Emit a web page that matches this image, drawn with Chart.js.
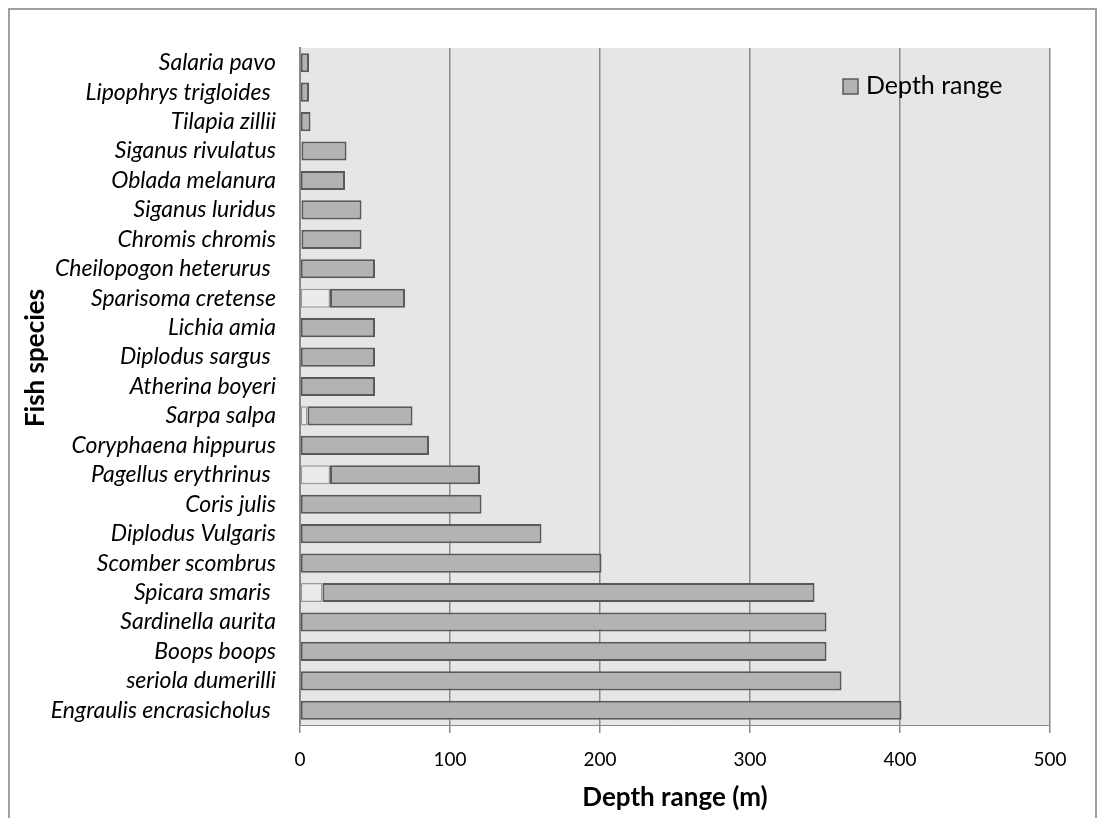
<!DOCTYPE html>
<html>
<head>
<meta charset="utf-8">
<script src="https://cdn.jsdelivr.net/npm/chart.js@4"></script>
<style>
  html, body { margin: 0; padding: 0; background: #fff; }
  #wrap { width: 1102px; height: 818px; }
</style>
</head>
<body>
<div id="wrap"><canvas id="depthChart"></canvas></div>
<script>
// species listed top to bottom, trailing spaces kept as in the labels
const species = [
  'Salaria pavo', 'Lipophrys trigloides ', 'Tilapia zillii', 'Siganus rivulatus',
  'Oblada melanura', 'Siganus luridus', 'Chromis chromis', 'Cheilopogon heterurus ',
  'Sparisoma cretense', 'Lichia amia', 'Diplodus sargus ', 'Atherina boyeri',
  'Sarpa salpa', 'Coryphaena hippurus', 'Pagellus erythrinus ', 'Coris julis',
  'Diplodus Vulgaris', 'Scomber scombrus', 'Spicara smaris ', 'Sardinella aurita',
  'Boops boops', 'seriola dumerilli', 'Engraulis encrasicholus '
];
const minDepth = [0, 0, 0, 1, 0, 1, 1, 0, 20, 0, 0, 0, 5, 0, 20, 0, 0, 0, 15, 0, 0, 0, 0];
const maxDepth = [6, 6, 7, 31, 30, 41, 41, 50, 70, 50, 50, 50, 75, 86, 120, 121, 161, 201, 343, 351, 351, 361, 401];
const depthTicks = [0, 100, 200, 300, 400, 500];

const rangeFill = '#b3b3b3';
const rangeEdge = '#595959';
const FONT = 'Lato, "Open Sans", sans-serif';

// grey plot area and outer frame
const backdrop = {
  id: 'backdrop',
  beforeDraw(chart) {
    const {ctx, chartArea: a} = chart;
    ctx.save();
    ctx.fillStyle = '#fff';
    ctx.fillRect(0, 0, chart.width, chart.height);
    ctx.fillStyle = '#e6e6e6';
    ctx.fillRect(a.left, a.top, a.right - a.left, a.bottom - a.top);
    ctx.strokeStyle = '#a0a0a0';
    ctx.lineWidth = 2;
    ctx.strokeRect(9, 9, 1087, 900);
    ctx.restore();
  }
};

// legend sits inside the plot, and the rotated y title
const extras = {
  id: 'extras',
  afterDraw(chart) {
    const {ctx} = chart;
    ctx.save();
    ctx.fillStyle = rangeFill;
    ctx.strokeStyle = rangeEdge;
    ctx.lineWidth = 1.5;
    ctx.fillRect(843, 79, 15, 15);
    ctx.strokeRect(843, 79, 15, 15);
    ctx.fillStyle = '#000';
    ctx.font = '25px ' + FONT;
    ctx.textBaseline = 'middle';
    ctx.fillText('Depth range', 866, 86);

    ctx.translate(36, 358);
    ctx.rotate(-Math.PI / 2);
    ctx.font = 'bold 26px ' + FONT;
    ctx.textAlign = 'center';
    ctx.fillText('Fish species', 0, 0);
    ctx.restore();
  }
};

new Chart(document.getElementById('depthChart'), {
  type: 'bar',
  data: {
    labels: species,
    datasets: [
      {
        label: 'Minimum depth',
        data: minDepth,
        backgroundColor: '#ebebeb',
        borderColor: '#9a9a9a',
        borderWidth: 1.5,
        borderSkipped: false
      },
      {
        label: 'Depth range',
        data: maxDepth.map((v, i) => v - minDepth[i]),
        backgroundColor: rangeFill,
        borderColor: rangeEdge,
        borderWidth: 2,
        borderSkipped: false
      }
    ]
  },
  options: {
    indexAxis: 'y',
    responsive: true,
    maintainAspectRatio: false,
    animation: false,
    layout: { padding: { top: 48, right: 52, left: 0, bottom: 0 } },
    datasets: { bar: { barPercentage: 0.65, categoryPercentage: 1 } },
    plugins: {
      legend: { display: false },
      tooltip: { enabled: false }
    },
    scales: {
      x: {
        stacked: true,
        min: 0,
        max: 500,
        afterBuildTicks: s => { s.ticks = depthTicks.map(v => ({ value: v })); },
        afterFit: s => { s.height = 93; },
        grid: { color: '#8a8a8a', lineWidth: 1.5, tickLength: 8 },
        border: { color: '#8a8a8a', width: 1 },
        ticks: { color: '#000', padding: 15, font: { family: FONT, size: 19 } },
        title: {
          display: true,
          text: 'Depth range (m)',
          color: '#000',
          font: { family: FONT, size: 26, weight: 'bold' },
          padding: { top: 0, bottom: 5 }
        }
      },
      y: {
        stacked: true,
        afterFit: s => { s.width = 300; },
        grid: { display: false },
        border: { color: '#8a8a8a', width: 2 },
        ticks: {
          color: '#000',
          padding: 16,
          autoSkip: false,
          font: { family: FONT, size: 23, style: 'italic' }
        }
      }
    }
  },
  plugins: [backdrop, extras]
});
</script>
</body>
</html>
